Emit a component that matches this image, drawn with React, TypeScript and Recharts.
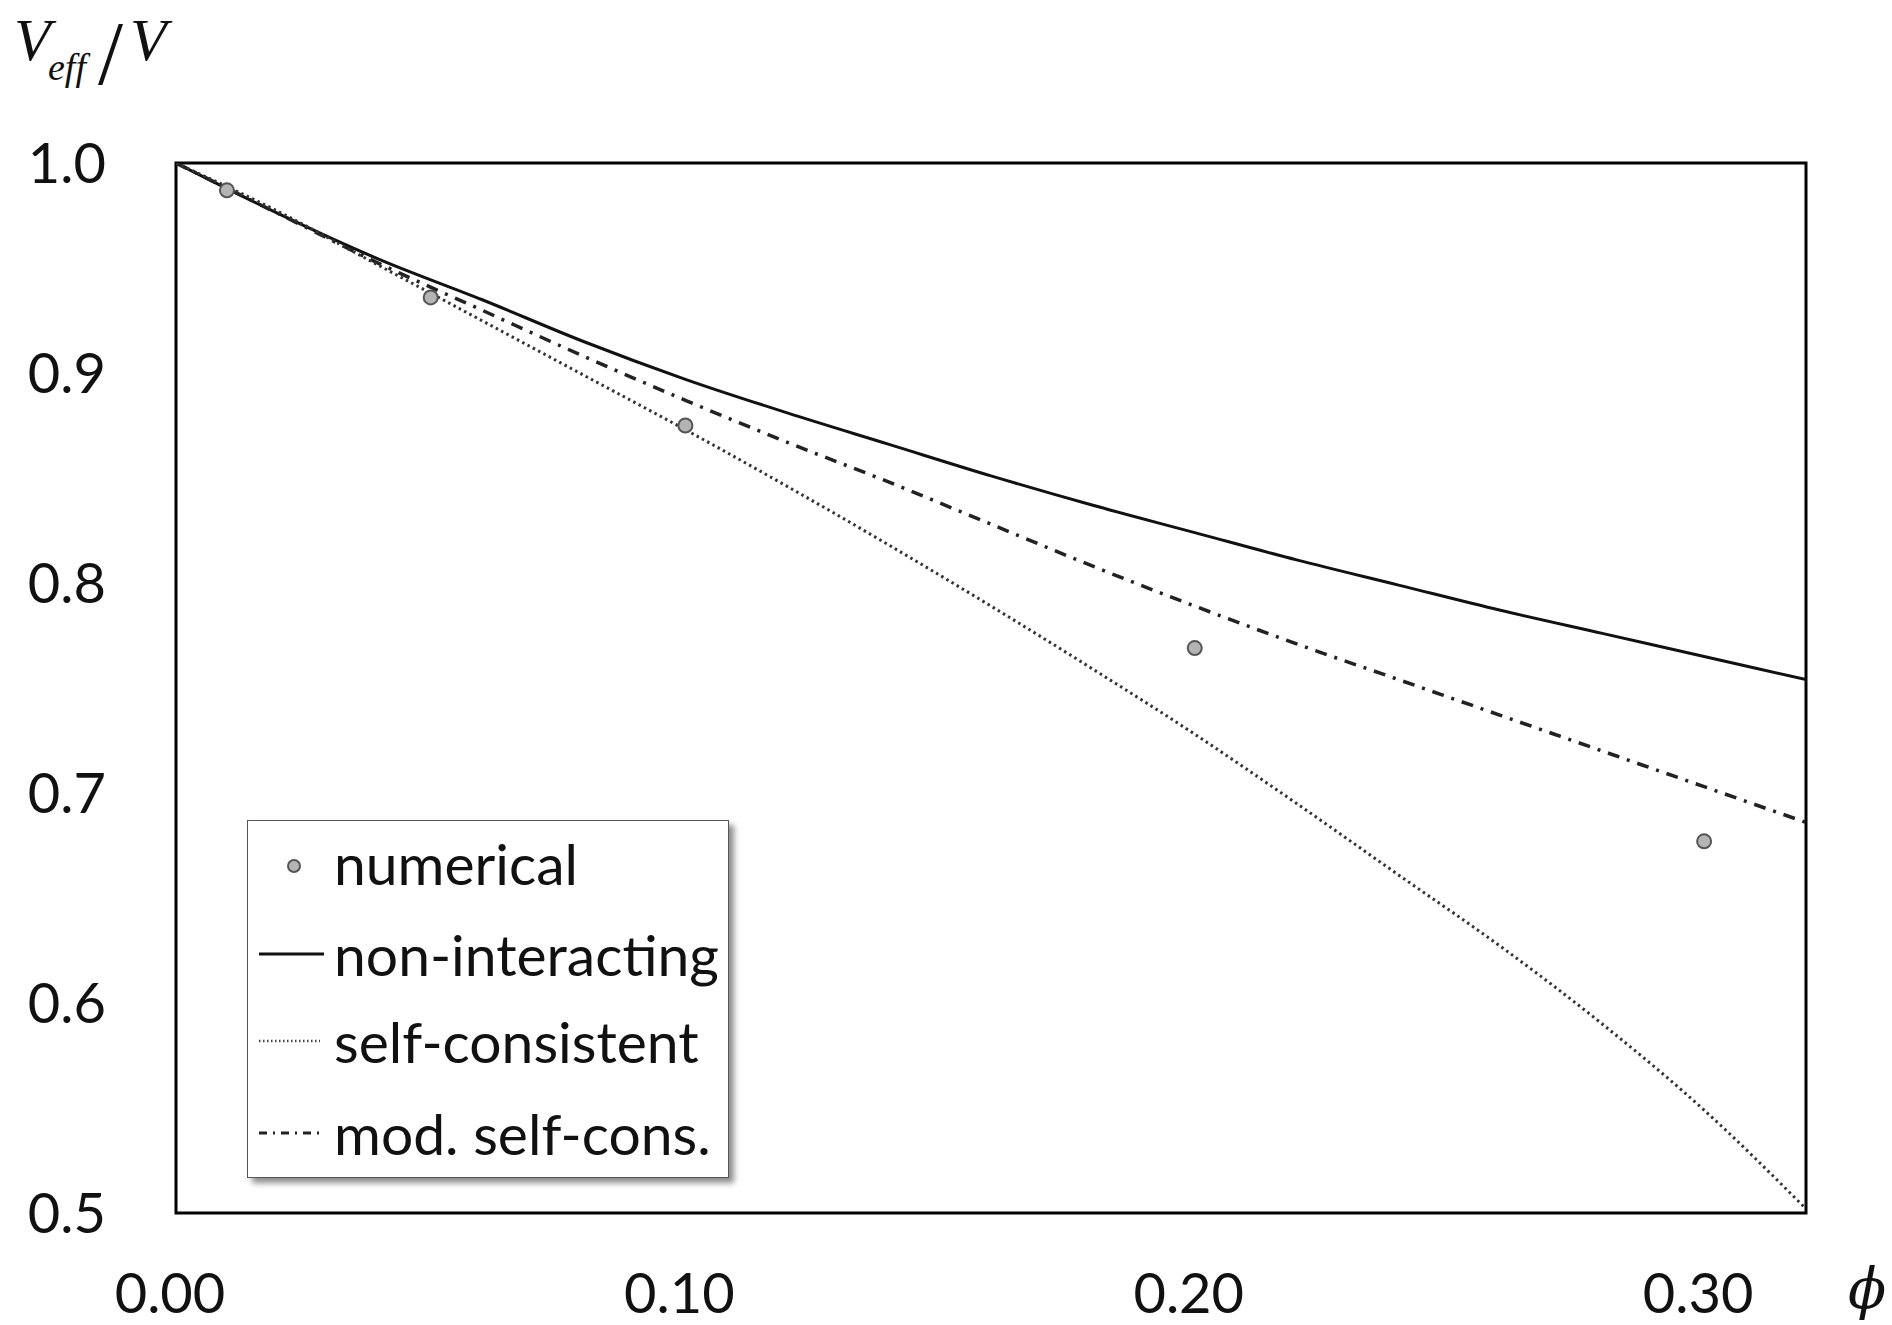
import React from "react";
import {
  ComposedChart,
  Line,
  Scatter,
  XAxis,
  YAxis,
  ReferenceArea,
} from "recharts";

// ---- data ----
const phiGrid = [0, 0.02, 0.04, 0.06, 0.08, 0.1, 0.12, 0.14, 0.16, 0.18, 0.2, 0.22, 0.24, 0.26, 0.28, 0.3, 0.32];
const nonInteracting = [1.0, 0.976, 0.954, 0.935, 0.915, 0.897, 0.881, 0.866, 0.851, 0.837, 0.824, 0.811, 0.799, 0.787, 0.776, 0.765, 0.754];
const modSelfCons = [1.0, 0.976, 0.952, 0.93, 0.908, 0.887, 0.867, 0.848, 0.828, 0.808, 0.789, 0.771, 0.754, 0.737, 0.72, 0.703, 0.686];
const selfConsistent = [1.0, 0.977, 0.951, 0.925, 0.899, 0.873, 0.846, 0.818, 0.789, 0.759, 0.728, 0.695, 0.661, 0.627, 0.59, 0.549, 0.502];
const numericalPhi = [0.01, 0.05, 0.1, 0.2, 0.3];
const numericalV = [0.987, 0.936, 0.875, 0.769, 0.677];

const xTicks = [0, 0.1, 0.2, 0.3];
const yTicks = [0.5, 0.6, 0.7, 0.8, 0.9, 1.0];

const legendLabels = ["numerical", "non-interacting", "self-consistent", "mod. self-cons."];

const nonData = phiGrid.map((x, i) => ({ x, y: nonInteracting[i] }));
const modData = phiGrid.map((x, i) => ({ x, y: modSelfCons[i] }));
const selfData = phiGrid.map((x, i) => ({ x, y: selfConsistent[i] }));
const numData = numericalPhi.map((x, i) => ({ x, y: numericalV[i] }));

const FONT = "Lato, 'Open Sans', sans-serif";
const SERIF = "'Liberation Serif', 'Times New Roman', serif";
const W = 1892;
const H = 1325;

const tickStyle = { fontFamily: FONT, fontSize: 56, fill: "#111" };

const DOT_DASH = "2.5 3.5";
const DASH_DOT = "12 8 3 8";

const Dot = (p: any) => (
  <circle cx={p.cx} cy={p.cy} r={7} fill="#b4b4b4" stroke="#555" strokeWidth={2} />
);

function LegendBox() {
  const rowCenters = [42, 133, 220, 312];
  return (
    <div
      style={{
        position: "absolute",
        left: 247,
        top: 820,
        width: 482,
        height: 358,
        border: "1.5px solid #555",
        background: "#fff",
        boxShadow: "5px 5px 6px rgba(0,0,0,0.45)",
        boxSizing: "border-box",
      }}
    >
      <svg width={90} height={357} style={{ position: "absolute", left: 0, top: 0 }}>
        <circle cx={46} cy={rowCenters[0] + 3} r={6} fill="#b4b4b4" stroke="#555" strokeWidth={2} />
        <line x1={11} x2={76} y1={rowCenters[1]} y2={rowCenters[1]} stroke="#111" strokeWidth={3} />
        <line x1={11} x2={72} y1={rowCenters[2]} y2={rowCenters[2]} stroke="#444" strokeWidth={2.5} strokeDasharray="1.5 2.5" />
        <line x1={11} x2={72} y1={rowCenters[3]} y2={rowCenters[3]} stroke="#222" strokeWidth={3} strokeDasharray="8 6 2 6" />
      </svg>
      {legendLabels.map((t, i) => (
        <div
          key={t}
          style={{
            position: "absolute",
            left: 86,
            top: rowCenters[i] - 36,
            height: 72,
            lineHeight: "72px",
            fontFamily: FONT,
            fontSize: 57,
            color: "#111",
            whiteSpace: "nowrap",
          }}
        >
          {t}
        </div>
      ))}
    </div>
  );
}

export default function App() {
  return (
    <div style={{ position: "absolute", left: 0, top: 0, width: W, height: H, background: "#fff" }}>
      <ComposedChart
        width={W}
        height={H}
        margin={{ top: 163, right: 86, bottom: 0, left: 0 }}
      >
        <XAxis
          dataKey="x"
          type="number"
          domain={[0, 0.32]}
          ticks={xTicks}
          allowDataOverflow
          height={112}
          axisLine={false}
          tickLine={false}
          tickSize={0}
          tickMargin={60}
          tick={{ ...tickStyle, dx: -6 }}
          tickFormatter={(v: number) => v.toFixed(2)}
        />
        <YAxis
          dataKey="y"
          type="number"
          domain={[0.5, 1]}
          ticks={yTicks}
          allowDataOverflow
          width={176}
          axisLine={false}
          tickLine={false}
          tickSize={0}
          tickMargin={70}
          tick={tickStyle}
          tickFormatter={(v: number) => v.toFixed(1)}
        />
        <Line
          data={nonData}
          dataKey="y"
          type="monotone"
          stroke="#111"
          strokeWidth={3}
          dot={false}
          activeDot={false}
          isAnimationActive={false}
        />
        <Line
          data={modData}
          dataKey="y"
          type="monotone"
          stroke="#222"
          strokeWidth={3.5}
          strokeDasharray={DASH_DOT}
          dot={false}
          activeDot={false}
          isAnimationActive={false}
        />
        <Line
          data={selfData}
          dataKey="y"
          type="monotone"
          stroke="#333"
          strokeWidth={3}
          strokeDasharray={DOT_DASH}
          dot={false}
          activeDot={false}
          isAnimationActive={false}
        />
        <Scatter data={numData} dataKey="y" shape={Dot} isAnimationActive={false} />
        <ReferenceArea
          x1={0}
          x2={0.32}
          y1={0.5}
          y2={1}
          fill="none"
          stroke="#000"
          strokeWidth={3}
          ifOverflow="visible"
        />
      </ComposedChart>

      <svg width={220} height={110} style={{ position: "absolute", left: 0, top: 0 }}>
        <text x={14} y={60} fontFamily={SERIF} fontStyle="italic" fontSize={60} fill="#111">V</text>
        <text x={48} y={80} fontFamily={SERIF} fontStyle="italic" fontSize={38} fill="#111">eff</text>
        <text x={98} y={84} fontFamily={SERIF} fontSize={90} fill="#111">/</text>
        <text x={130} y={60} fontFamily={SERIF} fontStyle="italic" fontSize={60} fill="#111">V</text>
      </svg>
      <svg width={60} height={80} style={{ position: "absolute", left: 1838, top: 1250 }}>
        <text x={10} y={58} fontFamily="'DejaVu Serif', 'Liberation Serif', serif" fontStyle="italic" fontSize={56} fill="#111">ϕ</text>
      </svg>

      <LegendBox />
    </div>
  );
}
